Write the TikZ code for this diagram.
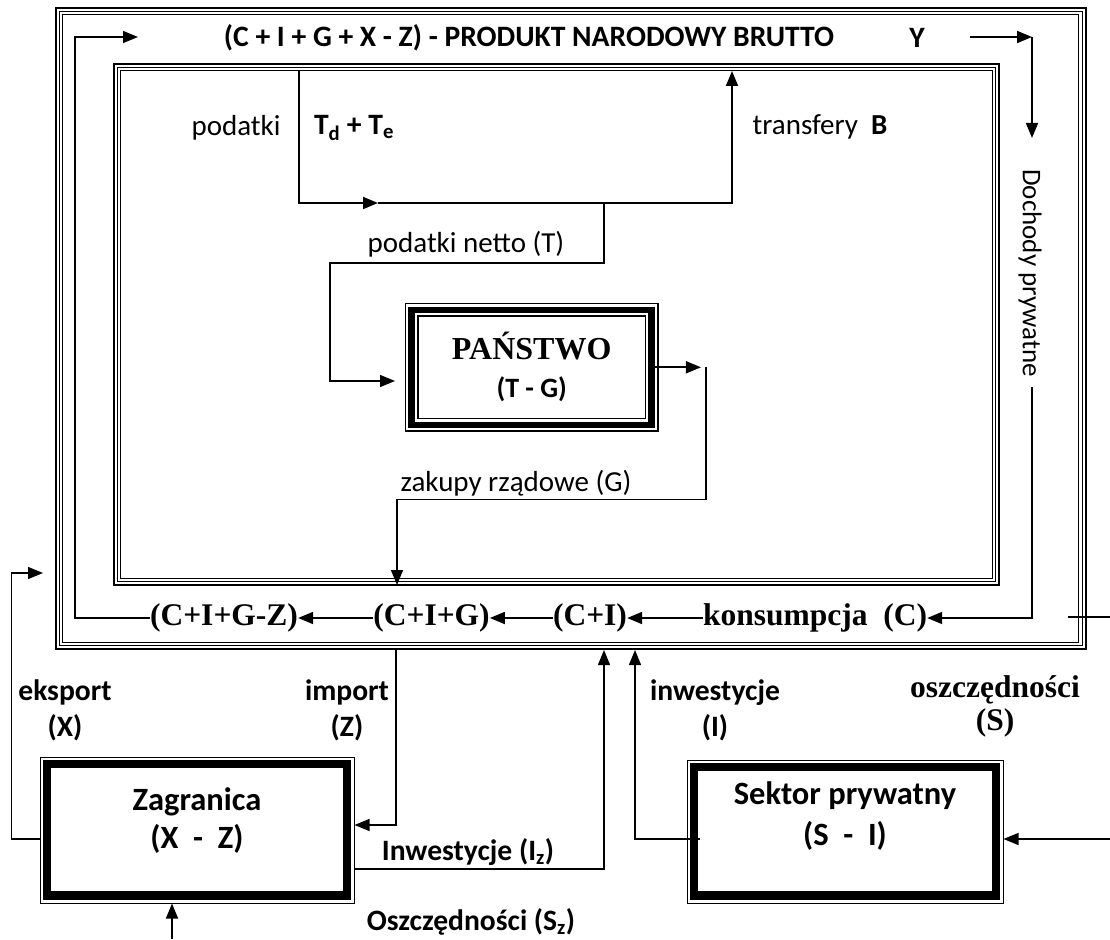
\documentclass[tikz,border=0pt]{standalone}
\usepackage{fontspec}
\setmainfont{Carlito}
\newfontfamily\timesfont{Liberation Serif}
\usetikzlibrary{arrows.meta,calc,positioning}

\tikzset
{
  txt/.style={inner sep=0pt,font=\fontsize{29}{34}\selectfont},
  txtb/.style={inner sep=0pt,font=\fontsize{29.6}{34}\selectfont\bfseries},
  boxtxt/.style={inner sep=0pt,align=center,font=\fontsize{32.5}{37}\selectfont\bfseries},
  tms/.style={inner sep=0pt,font=\fontsize{31.5}{33}\selectfont\timesfont\bfseries},
  flow/.style={line width=1.8pt,-{Triangle[length=15pt,width=12pt]}},
  thinflow/.style={line width=1.3pt,-{Triangle[length=15pt,width=12pt]}},
  govbox/.style={draw,line width=6.5pt,minimum width=240pt,minimum height=115pt,align=center,
    font=\fontsize{28}{34}\selectfont,
    preaction={draw,line width=1.7pt,double,double distance=11pt}},
  sectbox/.style={draw,line width=1pt,minimum width=314pt,minimum height=146pt}
}

\begin{document}
\begin{tikzpicture}[x=1pt,y=-1pt]
        \useasboundingbox (0,0) rectangle (1110,939);

        % Frames: economy and government
        \coordinate (onw) at (56,8);
        \coordinate (ose) at (1085.5,649);
        \coordinate (inw) at (114,64);
        \coordinate (ise) at (999,585);
        \foreach \d/\w in {0/2,3.4/1.2,6.8/1.2}
        {
          \draw[line width=\w pt] ([shift={(\d pt,-\d pt)}]onw) rectangle ([shift={(-\d pt,\d pt)}]ose);
        }
        \foreach \d/\w in {0/2,3.2/1.2,6.4/1.2}
        {
          \draw[line width=\w pt] ([shift={(\d pt,-\d pt)}]inw) rectangle ([shift={(-\d pt,\d pt)}]ise);
        }

        % Top line
        \node[txtb] (gnp) at (529,38) {(C + I + G + X - Z) - PRODUKT NARODOWY BRUTTO};
        \node[txtb] (ysym) at (917,38) {Y};

        % Government
        \node[txt] (podatki) at (236,128) {podatki};
        \node[txtb] (tdte) at (354,128) {T\textsubscript{d} + T\textsubscript{e}};
        \node[txt] (transf) at (820,127) {transfery\ \ \textbf{B}};
        \node[txt] (netto) at (466,244) {podatki netto (T)};
        \node[govbox] (panstwo) at (531.7,367.3)
          {{\timesfont\fontsize{32}{34}\selectfont\bfseries PAŃSTWO}\\[4pt]\textbf{(T - G)}};
        \node[txt] (zakupy) at (516,483) {zakupy rządowe (G)};
        \node[txt,inner sep=10pt,rotate=-90,font=\fontsize{27}{30}\selectfont] (doch) at (1030,273) {Dochody prywatne};

        % Bottom row of the circuit
        \node[tms] (cigz) at (224,618) {(C+I+G-Z)};
        \node[tms] (cig) at (431.5,618) {(C+I+G)};
        \node[tms] (ci) at (590,618) {(C+I)};
        \node[tms] (kons) at (815,618) {konsumpcja\ \ (C)};

        % Flow labels below
        \node[txtb,align=center] (eksport) at (65,710) {eksport\\[2pt](X)};
        \node[txtb,align=center] (import) at (347,710) {import\\[2pt](Z)};
        \node[txtb,align=center] (inwest) at (715,710) {inwestycje\\[2pt](I)};
        \node[tms,align=center] (oszcz) at (995,706) {oszczędności\\(S)};
        \node[txtb] (iz) at (468,852) {Inwestycje (I\textsubscript{z})};
        \node[txtb] (sz) at (471,922) {Oszczędności (S\textsubscript{z})};

        % Sectors
        \node[sectbox] (zagr) at (197,830) {};
        \node[sectbox,minimum width=316pt,minimum height=143pt] (sekt) at (845,831.5) {};
        \foreach \b in {zagr,sekt}
        {
          \draw[line width=8.5pt] ([shift={(7.5pt,-7.5pt)}]\b.north west) rectangle ([shift={(-7.5pt,8pt)}]\b.south east);
        }
        \node[boxtxt] (zagrtxt) at (197,821) {Zagranica\\[1pt](X\ \ -\ \ Z)};
        \node[boxtxt] (sekttxt) at (845,816) {Sektor prywatny\\[4pt](S\ \ -\ \ I)};

        % Free ends
        \coordinate (gnpin) at (138,37);
        \coordinate (yout) at (970,37);
        \coordinate (ycorner) at (1032,37);
        \coordinate (dochin) at (1032,138);
        \coordinate (tin) at (299,71);
        \coordinate (tmid) at (378,203);
        \coordinate (bout) at (732,71);
        \coordinate (nsplit) at (604,203);
        \coordinate (tgov) at (395,381);
        \coordinate (gin) at (397,585);
        \coordinate (imtop) at (396,649);
        \coordinate (xtip) at (43,573);
        \coordinate (izup) at (604,650);
        \coordinate (iup) at (635,650);
        \coordinate (szsrc) at (172,939);
        \coordinate (ssrc) at (1110,839);
        \coordinate (sout) at (1068,617);
        \coordinate (sedge) at (1110,617);

        % Circuit
        \draw[thinflow] (cigz.west) -| (75,37) -- (gnpin);
        \draw[flow] (yout) -- (ycorner);
        \draw[flow] (ycorner) -- (dochin);
        \draw[flow] (doch.east -| dochin) |- (kons.east);
        \draw[flow] (kons.west) -- (ci.east);
        \draw[flow] (ci.west) -- (cig.east);
        \draw[flow] (cig.west) -- (cigz.east);

        % Taxes and transfers
        \draw[flow] (tin) |- (tmid);
        \draw[flow] (tmid) -| (bout);
        \draw[thinflow] (nsplit) -- ++(0,60) -| ++(-274,118) -- (tgov);

        % Government purchases
        \draw[flow] (panstwo.east) -- ++(46,0) coordinate (gtip);
        \draw[thinflow] ([xshift=5pt]gtip) -- ++(0,132) -| (gin);

        % Foreign sector
        \draw[thinflow] (imtop) |- ([yshift=5pt]zagr.east);
        \draw[thinflow] ([yshift=-9pt]zagr.west) -- ++(-28,0) |- (xtip);
        \draw[thinflow] ([yshift=-39pt]zagr.east) -| (izup);
        \draw[thinflow] (szsrc) -- (szsrc |- zagr.south);

        % Private sector
        \draw[thinflow] ([shift={(13pt,-7.5pt)}]sekt.west) -| (iup);
        \draw[thinflow] (ssrc) -- (ssrc -| sekt.east);
        \draw[line width=1.3pt] (sedge) -- (sout);
\end{tikzpicture}
\end{document}
